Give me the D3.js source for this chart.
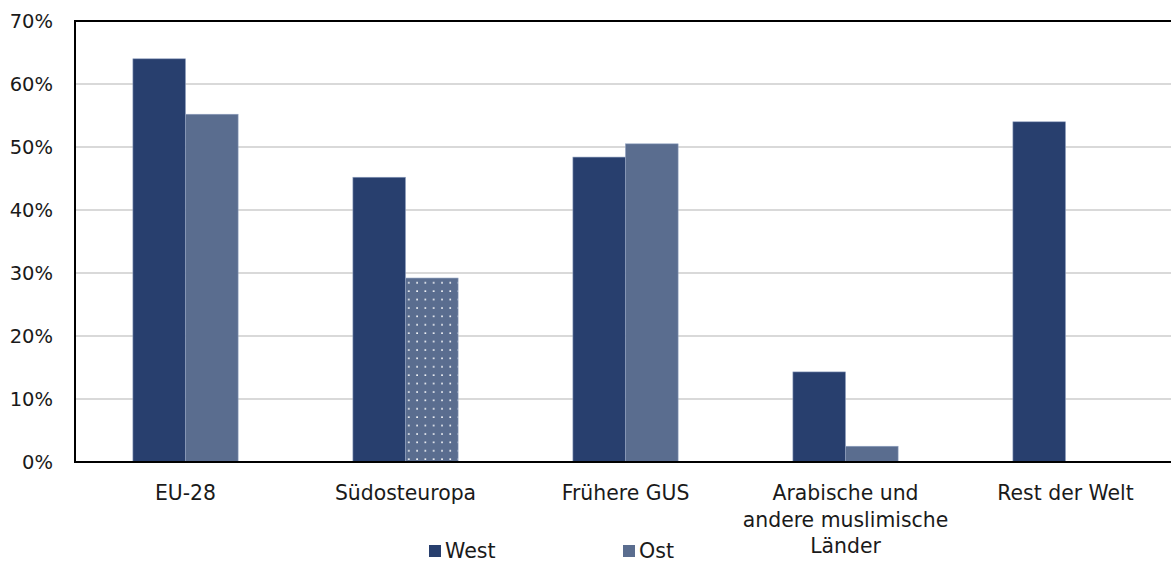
<!DOCTYPE html>
<html><head><meta charset="utf-8">
<script src="https://cdn.jsdelivr.net/npm/d3@7"></script>
<style>body{margin:0;background:#fff}svg{display:block}text{font-family:"DejaVu Sans",sans-serif;fill:#1a1a1a}</style>
</head><body><svg id="c" width="1171" height="563"></svg>
<script>
const categories = [["EU-28"],["Südosteuropa"],["Frühere GUS"],["Arabische und","andere muslimische","Länder"],["Rest der Welt"]];
const west = [64.0, 45.2, 48.4, 14.3, 54.0];
const ost = [55.2, 29.2, 50.5, 2.5, null];
const ostDotted = [false, true, false, false, false];
const yTicks = [0,10,20,30,40,50,60,70];
const seriesNames = ["West","Ost"];
const colors = {West:"#283f6e", Ost:"#5a6d8f"};

const svg = d3.select("#c");
const L=75, T=21, B=462, R=1175;
const x = d3.scaleBand().domain(d3.range(categories.length)).range([L+0.5,R+0.5]).paddingInner(0).paddingOuter(0);
const y = d3.scaleLinear().domain([0,70]).range([B,T]);
const bw = 52.6;

const defs = svg.append("defs");
const pat = defs.append("pattern").attr("id","dots").attr("patternUnits","userSpaceOnUse")
  .attr("width",8.3).attr("height",8.4).attr("x",405).attr("y",278);
pat.append("rect").attr("width",8.3).attr("height",8.4).attr("fill",colors.Ost);
pat.append("rect").attr("x",3).attr("y",4).attr("width",1.6).attr("height",1.6).attr("fill","#fff");

// grid
svg.append("g").selectAll("line").data(yTicks.filter(d=>d>0&&d<70)).join("line")
  .attr("x1",L).attr("x2",R).attr("y1",d=>y(d)).attr("y2",d=>y(d))
  .attr("stroke","#d9d9d9").attr("stroke-width",2);

// bars
const g = svg.append("g");
categories.forEach((c,i)=>{
  const cx = x(i)+x.bandwidth()/2;
  g.append("rect").attr("x",cx-bw).attr("width",bw).attr("y",y(west[i])).attr("height",B-y(west[i]))
    .attr("fill",colors.West).attr("stroke","#8fa0bf").attr("stroke-width",0.6);
  if(ost[i]!=null){
    g.append("rect").attr("x",cx).attr("width",bw).attr("y",y(ost[i])).attr("height",B-y(ost[i]))
      .attr("fill",ostDotted[i]?"url(#dots)":colors.Ost).attr("stroke","#8fa0bf").attr("stroke-width",0.6);
  }
});

// frame
svg.append("path").attr("d",`M${R},${T}H${L}V${B}H${R}`).attr("fill","none").attr("stroke","#000").attr("stroke-width",2);

// y axis labels
const ya = d3.axisLeft(y).tickValues(yTicks).tickFormat(d=>d+"%").tickSize(0).tickPadding(22);
const yg = svg.append("g").attr("transform",`translate(${L},0)`).call(ya);
yg.select(".domain").remove();
yg.selectAll("text").style("font-size","19.5px").style("font-family","DejaVu Sans, sans-serif").attr("fill","#1a1a1a");

// x labels
const xa = d3.axisBottom(x).tickSize(0).tickFormat(()=>"");
const xg = svg.append("g").attr("transform",`translate(0,${B})`).call(xa);
xg.select(".domain").remove();
xg.selectAll(".tick").each(function(d){
  const t = d3.select(this).append("text").attr("text-anchor","middle").style("font-size","20.4px").attr("fill","#1a1a1a");
  categories[d].forEach((line,k)=>{
    t.append("tspan").attr("x",0).attr("y",38+k*26.5).text(line);
  });
});

// legend
const leg = svg.append("g");
const lx = [429, 623];
seriesNames.forEach((s,i)=>{
  leg.append("rect").attr("x",lx[i]).attr("y",545).attr("width",12).attr("height",12).attr("fill",colors[s]);
  leg.append("text").attr("x",lx[i]+16).attr("y",558).style("font-size","20.6px").text(s);
});
</script></body></html>
